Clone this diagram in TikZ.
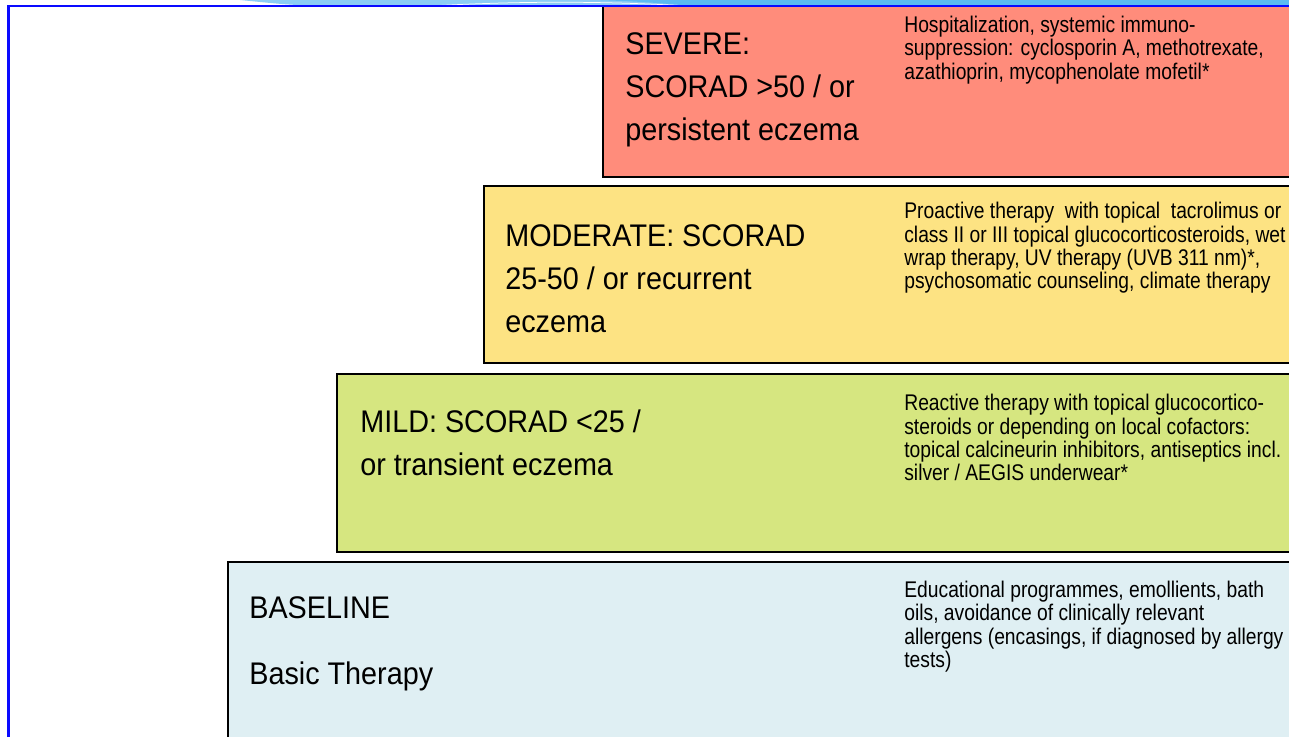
\documentclass[tikz,border=0pt]{standalone}
\usepackage{fontspec}
\setmainfont{Liberation Sans}[FakeStretch=0.92]
\newfontfamily\notefont{Liberation Sans}[FakeStretch=0.85]
\usepackage{tikz}
\usetikzlibrary{positioning}

\definecolor{severe}{HTML}{FF8C7B}
\definecolor{moderate}{HTML}{FDE383}
\definecolor{mild}{HTML}{D6E680}
\definecolor{basic}{HTML}{DFEFF3}
\definecolor{framebl}{HTML}{0A0AFF}
\definecolor{bandlt}{HTML}{8CCDF5}
\definecolor{banddk}{HTML}{5BBBF2}

\begin{document}
\begin{tikzpicture}[
  x=0.02cm,y=-0.02cm,
  tier/.style={draw=black, line width=0.05cm},
  grade/.style={anchor=north west, inner sep=0pt, align=left, font=\fontsize{17.8}{24.5}\selectfont},
  therapy/.style={anchor=north west, inner sep=0pt, align=left, font=\notefont\fontsize{12.9}{13.36}\selectfont}
]
\fill[white] (0,0) rectangle (1289,737);
\clip (0,0) rectangle (1289,737);

% the four steps
\draw[tier, fill=basic] (228,562) rectangle (1300,745);
\draw[tier, fill=mild] (337,374) rectangle (1300,552);
\draw[tier, fill=moderate] (484,186) rectangle (1300,363);
\draw[tier, fill=severe] (603,-4) rectangle (1300,177);

\node[grade] (s) at (625,32.5) {SEVERE:\\SCORAD >50 / or\\persistent eczema};
\node[therapy] (st) at (904,15.4) {Hospitalization, systemic immuno-\\suppression: cyclosporin A, methotrexate,\\azathioprin, mycophenolate mofetil*};

\node[grade] (m) at (505,224.5) {MODERATE: SCORAD\\25-50 / or recurrent\\eczema};
\node[therapy] (mt) at (904,201.8) {Proactive therapy~ with topical~ tacrolimus or\\class II or III topical glucocorticosteroids, wet\\wrap therapy, UV therapy (UVB 311 nm)*,\\psychosomatic counseling, climate therapy};

\node[grade] (l) at (360,409) {MILD: SCORAD <25 /\\or transient eczema};
\node[therapy] (lt) at (904,393.8) {Reactive therapy with topical glucocortico-\\steroids or depending on local cofactors:\\topical calcineurin inhibitors, antiseptics incl.\\silver / AEGIS underwear*};

\node[grade] (b) at (249,596.5) {BASELINE\\[0.46cm]Basic Therapy};
\node[therapy] (bt) at (904,580.4) {Educational programmes, emollients, bath\\oils, avoidance of clinically relevant\\allergens (encasings, if diagnosed by allergy\\tests)};

% slide frame
\fill[bandlt] (240,0) .. controls (290,5) .. (330,6) -- (1289,6) -- (1289,0) -- cycle;
\fill[banddk] (590,0) .. controls (640,1) and (670,4) .. (690,6) -- (1289,6) -- (1289,0) -- cycle;
\draw[white, line width=0.015cm] (430,6) .. controls (520,1) and (600,1) .. (690,6);
\draw[framebl, line width=0.05cm] (8.5,737) -- (8.5,6) -- (1289,6);
\end{tikzpicture}
\end{document}
